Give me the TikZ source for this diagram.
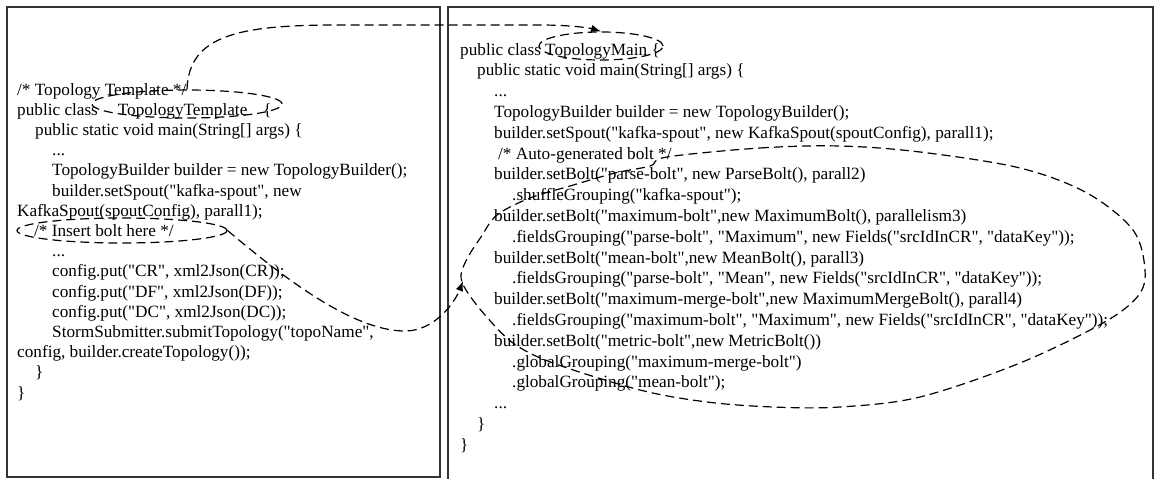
\documentclass[tikz,border=0pt]{standalone}
\usepackage{fontspec}
\setmainfont{Liberation Serif}[Ligatures={TeXOff,CommonOff}]
\usetikzlibrary{arrows.meta,shapes.geometric}

\begin{document}
\begin{tikzpicture}[x=1pt,y=-1pt,
  code/.style={anchor=base west, inner sep=0pt, font=\fontsize{17.2}{20}\selectfont},
  panel/.style={draw=black!80, line width=1.5pt},
  loopline/.style={draw=black, line width=1.2pt, dash pattern=on 9pt off 5pt},
  ovalmark/.style={ellipse, loopline, inner sep=0pt},
  pointer/.style={loopline, -{Latex[length=10pt,width=7.5pt]}}]

\useasboundingbox (0,0) rectangle (1162,479);
\clip (0,0) rectangle (1162,479);

% the two code panels
\draw[panel] (7,7) rectangle (440,477);
\draw[panel] (448,7) rectangle (1153,500);

% template class
\node[code] (L0)  at (17,95)    {/* Topology Template */};
\node[code] (L1)  at (17,115.2) {public class\hspace{20pt}TopologyTemplate\hspace{16pt}\{};
\node[code] (L2)  at (35,135.4) {public static void main(String[] args) \{};
\node[code] (L3)  at (52,155.6) {...};
\node[code] (L4)  at (52,175.8) {TopologyBuilder builder = new TopologyBuilder();};
\node[code] (L5)  at (52,196)   {builder.setSpout("kafka-spout", new};
\node[code] (L6)  at (17,216.2) {KafkaSpout(spoutConfig), parall1);};
\node[code] (L7)  at (34,236.4) {/* Insert bolt here */};
\node[code] (L8)  at (52,256.6) {...};
\node[code] (L9)  at (52,276.8) {config.put("CR", xml2Json(CR));};
\node[code] (L10) at (52,297)   {config.put("DF", xml2Json(DF));};
\node[code] (L11) at (52,317.2) {config.put("DC", xml2Json(DC));};
\node[code] (L12) at (52,337.4) {StormSubmitter.submitTopology("topoName",};
\node[code] (L13) at (17,357.6) {config, builder.createTopology());};
\node[code] (L14) at (35,377.8) {\}};
\node[code] (L15) at (17,398)   {\}};

% generated main class
\node[code] (R0)  at (460,55)    {public class TopologyMain \{};
\node[code] (R1)  at (477,75.8)  {public static void main(String[] args) \{};
\node[code] (R2)  at (494,96.6)  {...};
\node[code] (R3)  at (494,117.4) {TopologyBuilder builder = new TopologyBuilder();};
\node[code] (R4)  at (494,138.2) {builder.setSpout("kafka-spout", new KafkaSpout(spoutConfig), parall1);};
\node[code] (R5)  at (498,159)   {/* Auto-generated bolt */};
\node[code] (R6)  at (494,179.8) {builder.setBolt("parse-bolt", new ParseBolt(), parall2)};
\node[code] (R7)  at (512,200.6) {.shuffleGrouping("kafka-spout");};
\node[code] (R8)  at (494,221.4) {builder.setBolt("maximum-bolt",new MaximumBolt(), parallelism3)};
\node[code] (R9)  at (512,242.2) {.fieldsGrouping("parse-bolt", "Maximum", new Fields("srcIdInCR", "dataKey"));};
\node[code] (R10) at (494,263)   {builder.setBolt("mean-bolt",new MeanBolt(), parall3)};
\node[code] (R11) at (512,283.8) {.fieldsGrouping("parse-bolt", "Mean", new Fields("srcIdInCR", "dataKey"));};
\node[code] (R12) at (494,304.6) {builder.setBolt("maximum-merge-bolt",new MaximumMergeBolt(), parall4)};
\node[code] (R13) at (512,325.4) {.fieldsGrouping("maximum-bolt", "Maximum", new Fields("srcIdInCR", "dataKey"));};
\node[code] (R14) at (494,346.2) {builder.setBolt("metric-bolt",new MetricBolt())};
\node[code] (R15) at (512,367)   {.globalGrouping("maximum-merge-bolt")};
\node[code] (R16) at (512,387.8) {.globalGrouping("mean-bolt");};
\node[code] (R17) at (494,408.6) {...};
\node[code] (R18) at (477,429.4) {\}};
\node[code] (R19) at (460,450.2) {\}};

% highlighted names
\node[ovalmark, minimum width=190pt, minimum height=28pt] (tplOval)  at (187,104) {};
\node[ovalmark, minimum width=124pt, minimum height=28pt] (mainOval) at (601,46)  {};
\node[ovalmark, minimum width=210pt, minimum height=25pt] (insOval)  at (122,230.5) {};

% generated bolt block
\draw[loopline] plot[smooth cycle, tension=0.55] coordinates {
  (667,157) (760,148) (840,146) (920,152) (1020,168) (1087,193) (1133,230)
  (1145,270) (1138,296) (1103,323) (1020,363) (920,397) (840,407) (773,407)
  (707,402) (640,390) (553,363) (513,343) (485,315) (466,290) (461,275)
  (468,257) (481,237) (497,215) (530,198) (570,186) (615,173) (650,166)};
\coordinate (loopIn) at (463,281);

% class name mapping
\draw[pointer] (tplOval.north) .. controls +(2,-55) and (240,25) .. (340,25)
  -- (540,25) .. controls (570,25) and (590,28) .. (mainOval.north);

% insertion point mapping
\draw[pointer] (insOval.east) .. controls (300,292) and (360,331) .. (405,331)
  .. controls (435,331) and (455,302) .. (loopIn);
\end{tikzpicture}
\end{document}
